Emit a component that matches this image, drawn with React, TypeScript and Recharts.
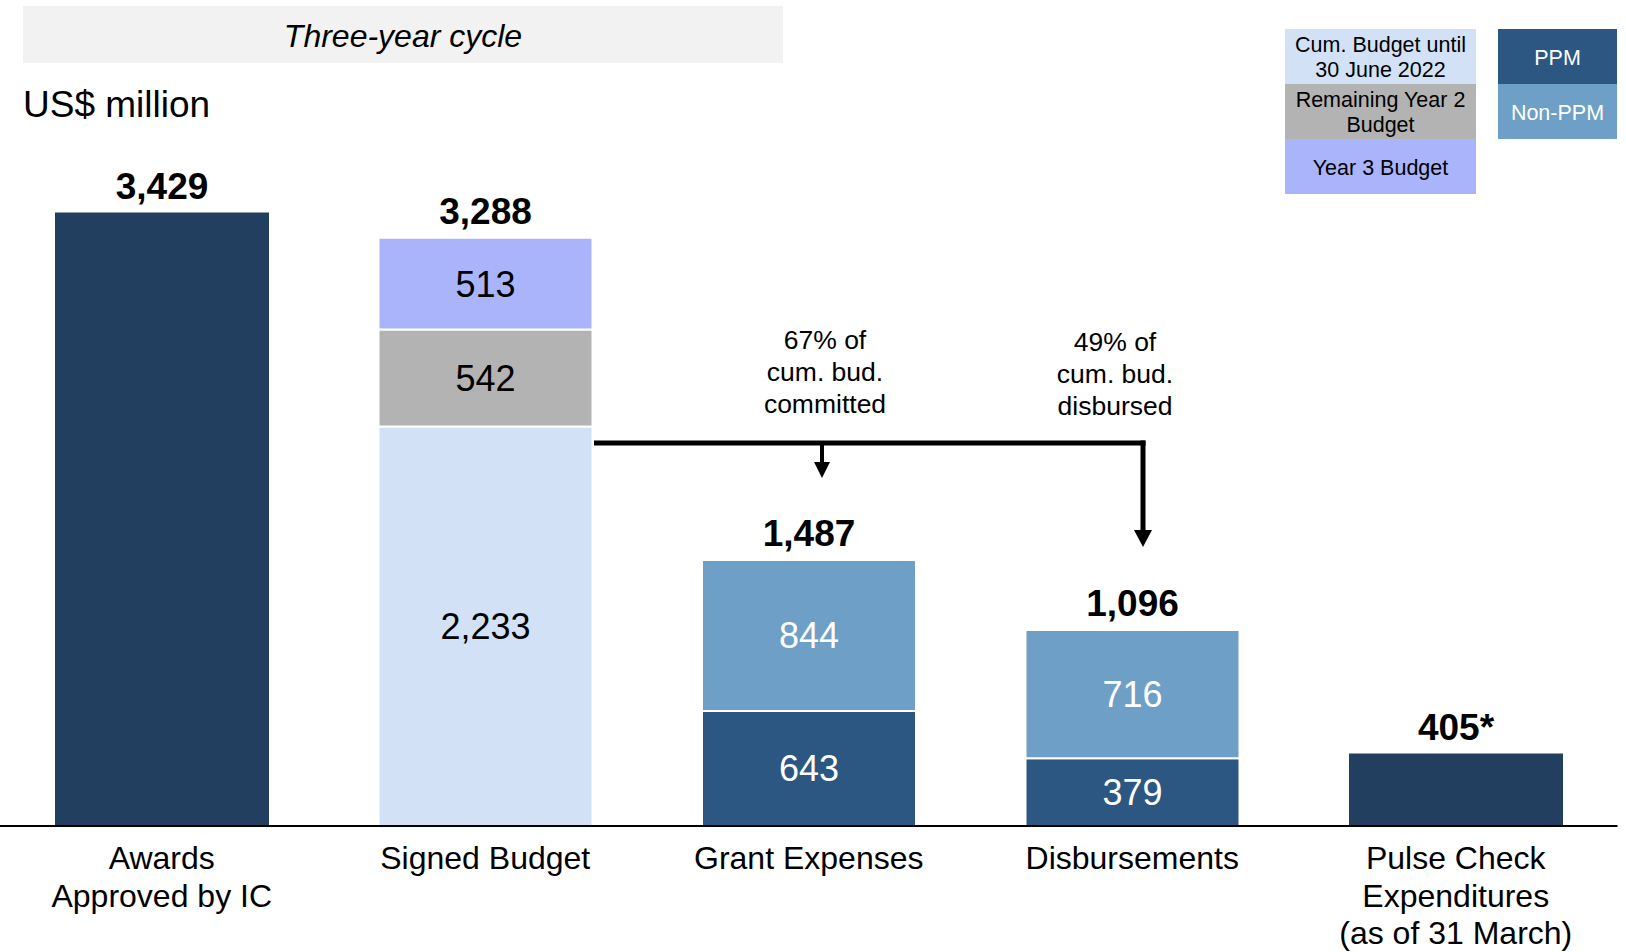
import { BarChart, Bar, XAxis, YAxis, LabelList } from 'recharts'

// Categories and values (US$ million)
const categories = [
  'Awards\nApproved by IC',
  'Signed Budget',
  'Grant Expenses',
  'Disbursements',
  'Pulse Check\nExpenditures\n(as of 31 March)',
]
const approvedValues = [3429, 0, 0, 0, 405]
const cumBudgetValues = [0, 2233, 0, 0, 0]
const remainingY2Values = [0, 542, 0, 0, 0]
const year3Values = [0, 513, 0, 0, 0]
const ppmValues = [0, 0, 643, 379, 0]
const nonPpmValues = [0, 0, 844, 716, 0]
const totalLabels = ['3,429', '3,288', '1,487', '1,096', '405*']

const FONT = '"Liberation Sans", Arial, Helvetica, sans-serif'

const COLORS = {
  approved: '#223F60',
  cum: '#D3E1F6',
  rem: '#B3B3B3',
  y3: '#A9B4FB',
  ppm: '#2C5783',
  nonPpm: '#6E9FC7',
}

const series = [
  { key: 'approved', values: approvedValues },
  { key: 'cum', values: cumBudgetValues },
  { key: 'rem', values: remainingY2Values },
  { key: 'y3', values: year3Values },
  { key: 'ppm', values: ppmValues },
  { key: 'nonPpm', values: nonPpmValues },
]

// which series sits on top of each stack -> gets the total label
const topKey = categories.map((_, i) => {
  let k = ''
  series.forEach(s => { if (s.values[i] > 0) k = s.key })
  return k
})

const data = categories.map((name, i) => {
  const row: Record<string, any> = { name }
  series.forEach(s => {
    row[s.key] = s.values[i]
    row[`${s.key}Total`] = topKey[i] === s.key ? totalLabels[i] : undefined
  })
  return row
})

function box(props: any) {
  const vb = props.viewBox || {}
  const x = props.x ?? vb.x
  const y = props.y ?? vb.y
  const width = props.width ?? vb.width
  const height = props.height ?? vb.height
  return { x: Number(x), y: Number(y), width: Number(width), height: Number(height) }
}

const segmentLabel = (color: string) => (props: any) => {
  const v = Number(props.value)
  if (!v) return null
  const { x, y, width, height } = box(props)
  return (
    <text x={x + width / 2} y={y + height / 2} dy="0.36em" textAnchor="middle"
      fontFamily={FONT} fontSize={36} fill={color}>
      {v.toLocaleString('en-US')}
    </text>
  )
}

const totalLabel = (props: any) => {
  if (!props.value) return null
  const { x, y, width } = box(props)
  return (
    <text x={x + width / 2} y={y - 27} dy="0.36em" textAnchor="middle"
      fontFamily={FONT} fontSize={37} fontWeight="bold" fill="#000">
      {props.value}
    </text>
  )
}

const CategoryTick = ({ x, y, payload }: any) => {
  const lines = String(payload.value).split('\n')
  return (
    <text x={x} y={y + 43} textAnchor="middle" fontFamily={FONT} fontSize={32} fill="#000">
      {lines.map((l, i) => (
        <tspan key={i} x={x} dy={i === 0 ? 0 : 37.5}>{l}</tspan>
      ))}
    </text>
  )
}

const legendLeft = [
  { label: 'Cum. Budget until\n30 June 2022', color: COLORS.cum, text: '#000' },
  { label: 'Remaining Year 2\nBudget', color: COLORS.rem, text: '#000' },
  { label: 'Year 3 Budget', color: COLORS.y3, text: '#000' },
]
const legendRight = [
  { label: 'PPM', color: COLORS.ppm, text: '#fff' },
  { label: 'Non-PPM', color: COLORS.nonPpm, text: '#fff' },
]

function LegendColumn({ items, left, width }: { items: typeof legendLeft; left: number; width: number }) {
  return (
    <div style={{ position: 'absolute', left, top: 29, width }}>
      {items.map((it, i) => (
        <div key={i} style={{
          height: 55, boxSizing: 'border-box', paddingTop: 3,
          background: it.color, color: it.text, display: 'flex',
          alignItems: 'center', justifyContent: 'center', textAlign: 'center',
          fontFamily: FONT, fontSize: 21.5, lineHeight: '25px', whiteSpace: 'pre-line',
        }}>
          {it.label}
        </div>
      ))}
    </div>
  )
}

export default function App() {
  const stackSeries = [
    { key: 'approved', color: COLORS.approved, text: null, stroke: false },
    { key: 'cum', color: COLORS.cum, text: '#000', stroke: true },
    { key: 'rem', color: COLORS.rem, text: '#000', stroke: true },
    { key: 'y3', color: COLORS.y3, text: '#000', stroke: true },
    { key: 'ppm', color: COLORS.ppm, text: '#fff', stroke: true },
    { key: 'nonPpm', color: COLORS.nonPpm, text: '#fff', stroke: true },
  ]

  return (
    <div style={{ position: 'absolute', left: 0, top: 0, width: 1626, height: 952, background: '#fff' }}>
      <BarChart width={1626} height={952} data={data}
        margin={{ top: 164, right: 8.5, bottom: 0, left: 0 }} barSize={214}>
        <XAxis dataKey="name" interval={0} height={126} tickSize={0} tickMargin={0}
          tickLine={false} axisLine={{ stroke: '#000', strokeWidth: 2 }} tick={<CategoryTick />} />
        <YAxis hide domain={[0, 3700]} />
        {stackSeries.map(s => (
          <Bar key={s.key} dataKey={s.key} stackId="a" fill={s.color} isAnimationActive={false}
            stroke={s.stroke ? '#fff' : 'none'} strokeWidth={s.stroke ? 2 : 0}>
            {s.text && <LabelList dataKey={s.key} content={segmentLabel(s.text)} />}
            <LabelList dataKey={`${s.key}Total`} content={totalLabel} />
          </Bar>
        ))}
      </BarChart>

      {/* header */}
      <div style={{
        position: 'absolute', left: 23, top: 6, width: 760, height: 57, background: '#F2F2F2',
        boxSizing: 'border-box', paddingTop: 4,
        display: 'flex', alignItems: 'center', justifyContent: 'center',
        fontFamily: FONT, fontStyle: 'italic', fontSize: 32, color: '#000',
      }}>
        Three-year cycle
      </div>
      <div style={{
        position: 'absolute', left: 23, top: 85, fontFamily: FONT, fontSize: 37,
        lineHeight: '40px', color: '#000',
      }}>
        US$ million
      </div>

      <LegendColumn items={legendLeft} left={1285} width={191} />
      <LegendColumn items={legendRight} left={1498} width={119} />

      {/* committed / disbursed connectors */}
      <svg width={1626} height={952} style={{ position: 'absolute', left: 0, top: 0, pointerEvents: 'none' }}>
        <line x1={594} y1={443} x2={1145.5} y2={443} stroke="#000" strokeWidth={5} />
        <line x1={1143} y1={440.5} x2={1143} y2={532} stroke="#000" strokeWidth={5} />
        <polygon points="1134,530 1152,530 1143,547" fill="#000" />
        <line x1={822} y1={443} x2={822} y2={464} stroke="#000" strokeWidth={4} />
        <polygon points="814,462 830,462 822,478" fill="#000" />
        <text textAnchor="middle" fontFamily={FONT} fontSize={26.5} fill="#000">
          <tspan x={825} y={349}>67% of</tspan>
          <tspan x={825} y={381}>cum. bud.</tspan>
          <tspan x={825} y={413}>committed</tspan>
        </text>
        <text textAnchor="middle" fontFamily={FONT} fontSize={26.5} fill="#000">
          <tspan x={1115} y={351}>49% of</tspan>
          <tspan x={1115} y={383}>cum. bud.</tspan>
          <tspan x={1115} y={415}>disbursed</tspan>
        </text>
      </svg>
    </div>
  )
}
